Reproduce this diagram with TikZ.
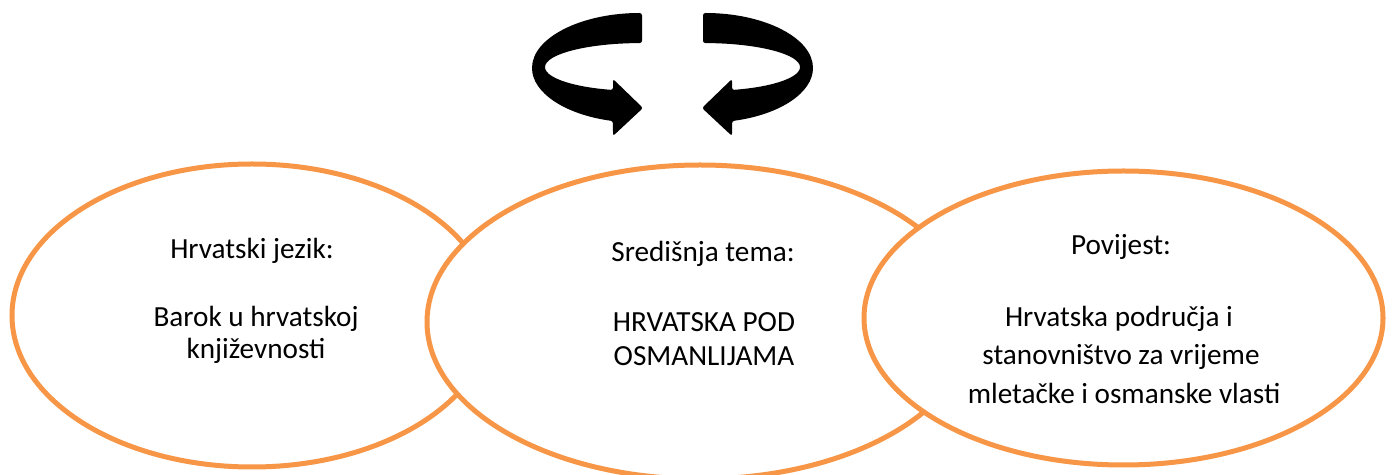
\documentclass[tikz,border=0pt]{standalone}
\usepackage{fontspec}
\setmainfont{Carlito}
\usetikzlibrary{shapes.geometric}
\definecolor{ora}{HTML}{F79646}
\begin{document}
\begin{tikzpicture}[x=0.5pt,y=0.5pt,
  ring/.style={draw=ora, line width=2.5pt, fill=white, ellipse, inner sep=0pt},
  txt/.style={font=\fontsize{14.6}{17}\selectfont, anchor=base, inner sep=0pt},
  arr/.style={fill=black, rounded corners=1.2pt}]
\useasboundingbox (0,0) rectangle (1392,-475);
% ellipses
\node[ring, minimum width=240pt, minimum height=151.5pt] (left) at (252,-315.5) {};
\node[ring, minimum width=273pt, minimum height=157pt] (mid) at (700,-322) {};
\node[ring, minimum width=259.5pt, minimum height=147pt] (right) at (1123.5,-318) {};
% texts
\node[txt] (l1) at (252,-259) {Hrvatski jezik:};
\node[txt] (l2) at (256,-327) {Barok u hrvatskoj};
\node[txt] (l3) at (256,-359) {književnosti};
\node[txt] (m1) at (703,-262) {Središnja tema:};
\node[txt] (m2) at (704,-332) {HRVATSKA POD};
\node[txt] (m3) at (704,-366) {OSMANLIJAMA};
\node[txt] (r1) at (1121,-255) {Povijest:};
\node[txt] (r2) at (1119,-327) {Hrvatska područja i};
\node[txt] (r3) at (1121,-365) {stanovništvo za vrijeme};
\node[txt] (r4) at (1124,-404) {mletačke i osmanske vlasti};
% circular arrows
\fill[arr] (642,-13) arc[start angle=90, end angle=254.7, x radius=110, y radius=55]
  -- (613,-136) -- (643,-108) -- (613,-79) -- (613,-90)
  arc[start angle=252.6, end angle=90, x radius=97, y radius=24] -- cycle;
\begin{scope}[xshift=672.5pt, xscale=-1]
\fill[arr] (642,-13) arc[start angle=90, end angle=254.7, x radius=110, y radius=55]
  -- (613,-136) -- (643,-108) -- (613,-79) -- (613,-90)
  arc[start angle=252.6, end angle=90, x radius=97, y radius=24] -- cycle;
\end{scope}
\end{tikzpicture}
\end{document}
